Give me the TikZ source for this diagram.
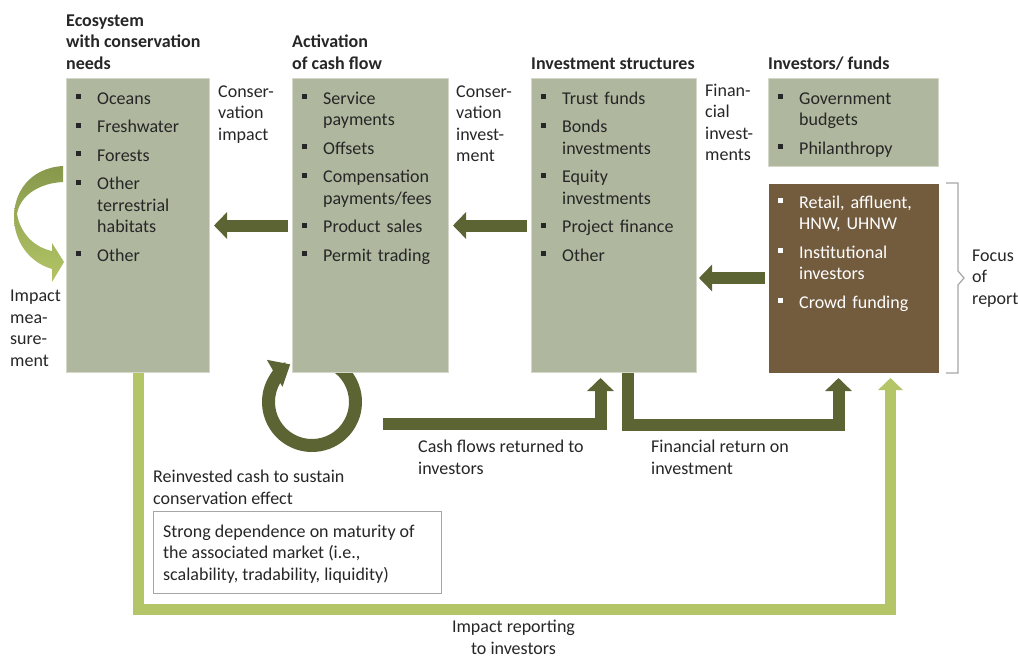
\documentclass[tikz,border=0pt]{standalone}
\usepackage{fontspec}
\setmainfont{Carlito}
\usepackage{tikz}
\usetikzlibrary{arrows.meta}
\definecolor{boxgray}{HTML}{AFB79E}
\definecolor{boxedge}{HTML}{D3D8C8}
\definecolor{investbrown}{HTML}{735B3E}
\definecolor{olive}{HTML}{5C6434}
\definecolor{lightolive}{HTML}{B3C566}
\definecolor{impactdark}{HTML}{87984C}
\definecolor{bracegray}{HTML}{A6A6A6}
\definecolor{textdark}{HTML}{262626}
\newcommand{\bodyfont}{\fontsize{18}{21.5}\selectfont}
\newcommand{\bitem}[1]{\hangindent=21pt\hangafter=1\noindent\makebox[21pt][l]{\raisebox{5pt}{\rule{5pt}{5pt}}}#1\par}
\tikzset{
  box/.style={draw=boxedge,line width=1pt,fill=boxgray,anchor=north west,inner sep=0pt},
  list/.style={anchor=base west,inner sep=0pt,text width=180pt,font=\bodyfont,text=textdark,
    execute at begin node={\raggedright\setlength{\parindent}{0pt}\setlength{\parskip}{7pt}}},
  title/.style={anchor=base west,inner sep=0pt,align=left,font=\bodyfont\bfseries,text=textdark},
  note/.style={anchor=base west,inner sep=0pt,align=left,font=\bodyfont,text=textdark},
  flow/.style={draw=olive,line width=12pt,-{Triangle[length=13pt,width=26pt]}},
  report/.style={draw=lightolive,line width=11pt,-{Triangle[length=12pt,width=24pt]}},
  bracket/.style={draw=bracegray,line width=1.2pt}
}

\begin{document}
\begin{tikzpicture}[x=1pt,y=-1pt]
  \useasboundingbox (0,0) rectangle (1018,657);

  % impact measurement and reinvestment loops
  \shade[top color=impactdark,bottom color=lightolive]
    (63,166) .. controls (30,168) and (14,192) .. (14,217)
    .. controls (14,240) and (28,262) .. (52,269)
    -- (52,282) -- (64,262) -- (52,243) -- (52,251)
    .. controls (33,247) and (20,232) .. (17,214)
    .. controls (20,195) and (40,183) .. (63,182) -- cycle;
  \coordinate (loop) at (312,402);
  \draw[flow,line width=13pt,-{Triangle[length=18pt,width=30pt]}]
    (loop) ++(-60:43.5) arc[start angle=-60,end angle=240,radius=43.5];

  % boxes
  \node[box,minimum width=143pt,minimum height=294pt] (eco) at (66,78) {};
  \node[box,minimum width=156pt,minimum height=294pt] (act) at (292,78) {};
  \node[box,minimum width=165pt,minimum height=294pt] (str) at (531,78) {};
  \node[box,minimum width=170pt,minimum height=88pt] (gov) at (768,78) {};
  \node[box,draw=none,fill=investbrown,minimum width=170pt,minimum height=189pt] (inv) at (768,183) {};

  \node[title] (ecotitle) at (66,69) {Ecosystem\\with conservation\\needs};
  \node[title] (acttitle) at (292,69) {Activation\\of cash flow};
  \node[title] (strtitle) at (531,69) {Investment structures};
  \node[title] (invtitle) at (768,69) {Investors/ funds};

  \node[list] (ecolist) at ([xshift=10pt,yshift=-26pt]eco.north west)
    {\bitem{Oceans}\bitem{Freshwater}\bitem{Forests}\bitem{Other\newline terrestrial\newline habitats}\bitem{Other}};
  \node[list] (actlist) at ([xshift=10pt,yshift=-26pt]act.north west)
    {\bitem{Service\newline payments}\bitem{Offsets}\bitem{Compensation\newline payments/fees}\bitem{Product sales}\bitem{Permit trading}};
  \node[list] (strlist) at ([xshift=10pt,yshift=-26pt]str.north west)
    {\bitem{Trust funds}\bitem{Bonds\newline investments}\bitem{Equity\newline investments}\bitem{Project finance}\bitem{Other}};
  \node[list] (govlist) at ([xshift=10pt,yshift=-26pt]gov.north west)
    {\bitem{Government\newline budgets}\bitem{Philanthropy}};
  \node[list,text=white] (invlist) at ([xshift=10pt,yshift=-25pt]inv.north west)
    {\bitem{Retail, affluent,\newline HNW, UHNW}\bitem{Institutional\newline investors}\bitem{Crowd funding}};

  \node[note] (lblimpact) at (218,140) {Conser-\\vation\\impact};
  \node[note] (lblconsinv) at (456,161.5) {Conser-\\vation\\invest-\\ment};
  \node[note] (lblfininv) at (705,160.5) {Finan-\\cial\\invest-\\ments};
  \node[note] (lblmeasure) at (10,366) {Impact\\mea-\\sure-\\ment};

  % flows between boxes
  \draw[flow,shorten <=4pt,shorten >=4pt] (act.west) -- (eco.east);
  \draw[flow,shorten <=4pt,shorten >=4pt] (str.west) -- (act.east);
  \draw[flow,shorten <=3pt,shorten >=2pt] (inv.west) -- (inv.west -| str.east);
  \coordinate (cfstart) at (383,424);
  \draw[flow,shorten >=5pt] (cfstart) -| ([xshift=-13.5pt]str.south);
  \draw[flow,shorten >=5pt] ([xshift=13.5pt]str.south) -- ++(0,52) -| ([xshift=-15pt]inv.south);
  \draw[report,shorten >=5pt] (eco.south) -- ++(0,236) -| ([xshift=37pt]inv.south);

  \draw[bracket] ([xshift=7pt]inv.north east) -- ++(12,0) -- ([xshift=19pt,yshift=7pt]inv.east)
    -- ([xshift=25pt]inv.east) -- ([xshift=19pt,yshift=-7pt]inv.east)
    -- ([xshift=19pt]inv.south east) -- ([xshift=7pt]inv.south east);
  \node[note] (lblfocus) at (972,304) {Focus\\of\\report};

  \node[note] (lblcash) at (418,474) {Cash flows returned to\\investors};
  \node[note] (lblreturn) at (651,474) {Financial return on\\investment};
  \node[note] (lblreinvest) at (153,504) {Reinvested cash to sustain\\conservation effect};
  \node[draw=bracegray,line width=1.2pt,fill=white,anchor=north west,inner sep=0pt,
    minimum width=288pt,minimum height=82pt] (mktbox) at (153,511) {};
  \node[note] (mkttext) at ([xshift=10pt,yshift=-69pt]mktbox.north west)
    {Strong dependence on maturity of\\the associated market (i.e.,\\scalability, tradability, liquidity)};
  \node[note,anchor=base,align=center] (lblreport) at (513.5,654) {Impact reporting\\to investors};
\end{tikzpicture}
\end{document}
